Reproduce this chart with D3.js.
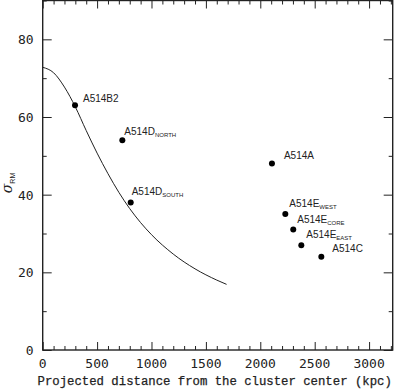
<!DOCTYPE html>
<html>
<head>
<meta charset="utf-8">
<script src="https://cdn.jsdelivr.net/npm/d3@7"></script>
<style>
  body { margin: 0; background: #fff; }
  svg { display: block; }
</style>
</head>
<body>
<div id="vis"></div>
<script>
// ── CONFIG ──────────────────────────────────────────────
const width  = 397;
const height = 389;
const margin = {top: 0.5, right: 4.3, bottom: 39, left: 42.7};

// ── DATA ────────────────────────────────────────────────
// observed sources: name, subscript, distance (kpc), sigma_RM
const names    = ["A514B2", "A514D", "A514D", "A514A", "A514E", "A514E", "A514E", "A514C"];
const subs     = ["", "NORTH", "SOUTH", "", "WEST", "CORE", "EAST", ""];
const distance = [297, 732, 809, 2107, 2230, 2303, 2377, 2561];
const sigmaRM  = [63, 54, 38, 48, 35, 31, 27, 24];

// model curve
const curveX = [0, 100, 200, 300, 400, 500, 600, 700, 800, 900, 1000, 1200, 1400, 1600, 1690];
const curveY = [72.8, 71.4, 67.7, 62.6, 56.5, 50.7, 45.4, 40.6, 36.4, 32.8, 29.7, 24.7, 20.9, 18.0, 16.9];

const xMajor = [0, 500, 1000, 1500, 2000, 2500, 3000];
const yMajor = [0, 20, 40, 60, 80];

// label placement relative to each dot (px)
const labelDx = [8, 2, 1, 12, 4, 4, 5, 11];
const labelDy = [-3.5, -5.6, -7.7, -4.4, -6.7, -7, -7, -5.3];

// ── SCALES ──────────────────────────────────────────────
const x = d3.scaleLinear([0, 3217], [margin.left, width - margin.right]);
const y = d3.scaleLinear([0, 90], [height - margin.bottom, margin.top]);

const svg = d3.select("#vis").append("svg")
    .attr("width", width)
    .attr("height", height);

const ink = "#222";
const numFont = "'DejaVu Sans Mono', monospace";
const titleFont = "'Liberation Mono', 'DejaVu Sans Mono', monospace";

// ── AXES ────────────────────────────────────────────────
function styleAxis(g) {
  g.select(".domain").remove();
  g.selectAll(".tick line").attr("stroke", ink).attr("stroke-width", 1);
  g.selectAll(".tick text").remove();
}

const xMinor = d3.range(0, 3201, 100).filter(v => !xMajor.includes(v));
const yMinor = d3.range(0, 91, 10).filter(v => !yMajor.includes(v));

const tickSets = [
  [d3.axisBottom, y(0), xMajor, 8, x],
  [d3.axisBottom, y(0), xMinor, 4, x],
  [d3.axisTop, y(90), xMajor, 8, x],
  [d3.axisTop, y(90), xMinor, 4, x],
];
tickSets.forEach(([ax, pos, vals, len, sc]) => {
  svg.append("g")
      .attr("transform", `translate(0,${pos})`)
      .call(ax(sc).tickValues(vals).tickSize(-len))
      .call(styleAxis);
});
[[d3.axisLeft, x.range()[0]], [d3.axisRight, x.range()[1]]].forEach(([ax, pos]) => {
  svg.append("g")
      .attr("transform", `translate(${pos},0)`)
      .call(ax(y).tickValues(yMajor).tickSize(-9))
      .call(styleAxis);
  svg.append("g")
      .attr("transform", `translate(${pos},0)`)
      .call(ax(y).tickValues(yMinor).tickSize(-4))
      .call(styleAxis);
});

// tick labels
svg.append("g")
    .attr("fill", ink)
    .style("font", `13px ${numFont}`)
    .attr("text-anchor", "middle")
  .selectAll("text")
  .data(xMajor)
  .join("text")
    .attr("x", d => x(d))
    .attr("y", y(0) + 18)
    .text(d => d);

svg.append("g")
    .attr("fill", ink)
    .style("font", `13px ${numFont}`)
    .attr("text-anchor", "end")
  .selectAll("text")
  .data(yMajor)
  .join("text")
    .attr("x", x(0) - 9)
    .attr("y", d => y(d) + 5)
    .text(d => d);

// frame
svg.append("rect")
    .attr("x", x.range()[0])
    .attr("y", y(90))
    .attr("width", x.range()[1] - x.range()[0])
    .attr("height", y(0) - y(90))
    .attr("fill", "none")
    .attr("stroke", ink)
    .attr("stroke-width", 1.4);

// ── MODEL CURVE ─────────────────────────────────────────
const line = d3.line()
    .x(d => x(d[0]))
    .y(d => y(d[1]))
    .curve(d3.curveMonotoneX);

svg.append("path")
    .datum(curveX.map((v, i) => [v, curveY[i]]))
    .attr("fill", "none")
    .attr("stroke", ink)
    .attr("stroke-width", 1)
    .attr("d", line);

// ── POINTS ──────────────────────────────────────────────
const pts = names.map((n, i) => ({name: n, sub: subs[i], d: distance[i], s: sigmaRM[i], i}));

svg.append("g").selectAll("circle")
  .data(pts)
  .join("circle")
    .attr("cx", d => x(d.d))
    .attr("cy", d => y(d.s))
    .attr("r", 3)
    .attr("fill", "#000");

const lbl = svg.append("g")
    .style("font", "10px 'Liberation Sans', Arial, sans-serif")
    .attr("fill", ink)
  .selectAll("text")
  .data(pts)
  .join("text")
    .attr("x", d => x(d.d) + labelDx[d.i])
    .attr("y", d => y(d.s) + labelDy[d.i])
    .text(d => d.name);

lbl.filter(d => d.sub)
  .append("tspan")
    .attr("dy", 2)
    .style("font-size", "6px")
    .text(d => d.sub);

// ── AXIS TITLES ─────────────────────────────────────────
svg.append("text")
    .attr("x", (x.range()[0] + x.range()[1]) / 2 - 3)
    .attr("y", 385)
    .attr("text-anchor", "middle")
    .attr("fill", ink)
    .attr("stroke", ink)
    .attr("stroke-width", 0.25)
    .style("font", `12.3px ${titleFont}`)
    .text("Projected distance from the cluster center (kpc)");

const ylab = svg.append("text")
    .attr("transform", `translate(12,${183}) rotate(-90)`)
    .attr("text-anchor", "middle")
    .attr("fill", ink)
    .style("font", "14px 'DejaVu Serif', serif")
    .style("font-style", "italic");
ylab.append("tspan").text("σ");
ylab.append("tspan")
    .attr("dy", 3)
    .style("font", "7px 'Liberation Sans', sans-serif")
    .text("RM");
</script>
</body>
</html>
